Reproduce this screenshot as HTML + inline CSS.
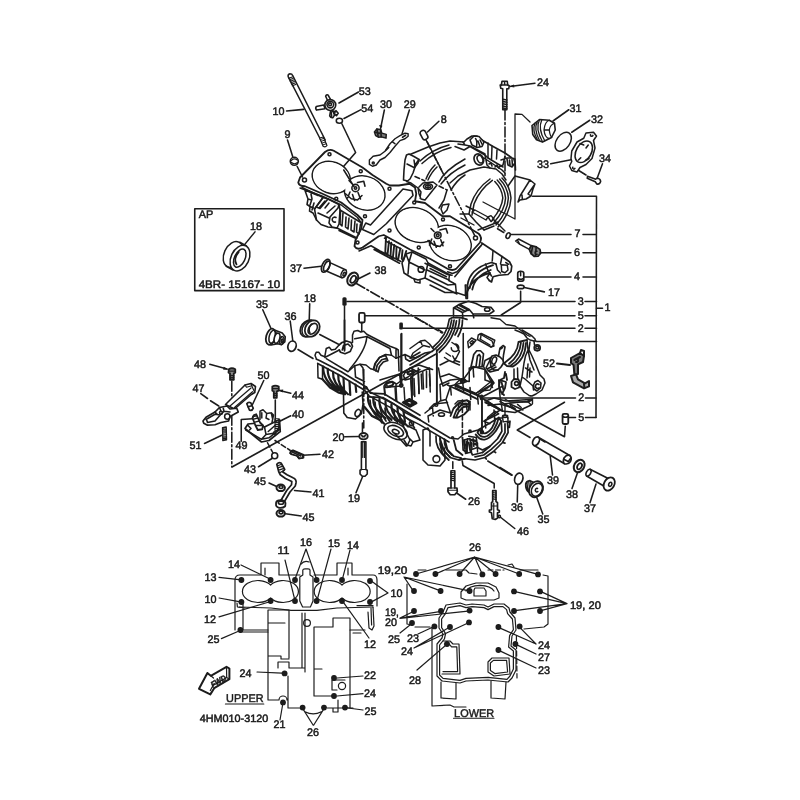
<!DOCTYPE html>
<html><head><meta charset="utf-8"><title>Crankcase</title>
<style>
html,body{margin:0;padding:0;background:#fff;}
svg{display:block;}
.t text{font-family:"Liberation Sans",sans-serif;font-size:11px;fill:#1a1a1a;stroke:#1a1a1a;stroke-width:0.5;text-rendering:geometricPrecision;}
.b{font-weight:bold;}
.l{stroke:#1c1c1c;stroke-width:1.55;fill:none;stroke-linecap:round;stroke-linejoin:round;}
.w{stroke:#1c1c1c;fill:#fff;stroke-linejoin:round;}
.k{fill:#1a1a1a;stroke:none;}
path,ellipse,circle,line,polyline,rect{vector-effect:non-scaling-stroke;}
.d{stroke-dasharray:7 2 1.5 2;}
</style></head><body>
<svg width="800" height="800" viewBox="0 0 800 800">
<defs><filter id="s" x="0" y="0" width="800" height="800" filterUnits="userSpaceOnUse"><feGaussianBlur stdDeviation="0.45"/></filter></defs>
<rect width="800" height="800" fill="#fff"/>
<g filter="url(#s)">
<!--UPPERCASE-->
<g id="uc1" class="l" transform="translate(290,130) scale(.25)">
<path class="w" stroke-width="1.8" d="M33 210L40 190L140 88Q158 74 175 83L290 150L330 180L385 215L400 222L435 222L478 215L500 230L505 255L500 285L540 292L610 345L640 345L755 415Q770 430 760 450L665 555Q650 565 630 555L560 515L480 478L375 420L355 425L290 470Q268 482 258 465L262 440L285 395L290 360L270 340L205 290L130 255L60 225Q36 225 33 210Z"/>
<g id="bores" stroke-width="1.8">
<ellipse cx="165" cy="190" rx="77" ry="62" transform="rotate(20 165 190)"/>
<ellipse cx="299" cy="252" rx="82" ry="66" transform="rotate(20 299 252)"/>
<ellipse cx="507" cy="380" rx="88" ry="66" transform="rotate(20 507 380)"/>
<ellipse cx="641" cy="452" rx="85" ry="68" transform="rotate(20 641 452)"/>
<g fill="#fff" stroke="none">
<ellipse cx="165" cy="190" rx="75" ry="60" transform="rotate(20 165 190)"/>
<ellipse cx="299" cy="252" rx="80" ry="64" transform="rotate(20 299 252)"/>
<ellipse cx="507" cy="380" rx="86" ry="64" transform="rotate(20 507 380)"/>
<ellipse cx="641" cy="452" rx="83" ry="66" transform="rotate(20 641 452)"/>
</g></g>
<path d="M290 398L303 372L322 380L452 236L488 243L492 262L385 375L335 418Z"/>
<g id="holes"><circle cx="158" cy="97" r="6"/><circle cx="58" cy="200" r="8"/><circle cx="185" cy="275" r="6"/><circle cx="283" cy="165" r="6"/><circle cx="300" cy="345" r="6"/><circle cx="398" cy="235" r="6"/><circle cx="270" cy="450" r="6"/><circle cx="398" cy="402" r="6"/><circle cx="497" cy="290" r="6"/><circle cx="515" cy="470" r="6"/><circle cx="612" cy="358" r="6"/><circle cx="640" cy="545" r="6"/><circle cx="742" cy="432" r="8"/></g>
</g>
<g id="ucB" class="l" transform="translate(295,170) scale(.1)">
<path d="M70 175L260 265L420 345M100 200L230 255M100 205L130 290L120 345L150 365L145 410L180 430L215 500L260 545L330 570L420 580M160 240L170 290L150 350M190 330L170 400M130 290L165 300M150 365L185 380"/>
<path class="w" d="M195 390L280 275L330 290L440 345L430 380L350 470L340 530L370 570L420 580L440 540L450 400L440 345"/>
<path d="M280 275L200 385M330 290L250 385L225 375M300 310L240 380M340 330L300 380M400 360L320 430M195 390L215 500M230 430L340 480"/>
<path d="M410 475A25 25 0 1 0 405 520" />
<path d="M455 410L450 540L470 560L480 430M510 470L505 570L530 590L540 480M565 500L560 600L590 620L600 510M620 540L615 620L640 640L655 540" stroke-width="1.6"/>
<path d="M420 580L620 680M440 605L600 680M450 400L650 520"/>
</g>
<g id="ucE" class="l" transform="translate(400,220) scale(.2)">
<path class="w" d="M10 215L30 170L60 160L130 195L140 215L130 260L125 290L90 300L60 290L20 265Z"/>
<circle cx="105" cy="247" r="14.5"/>
<path d="M60 160L45 210L125 250M30 170L45 210M45 210L40 270M140 215L250 275M135 250L245 300M125 290L285 370M70 295L75 310L100 315L100 302"/>
</g>
<g id="ucAB" class="l" transform="translate(430,225) scale(.15)">
<path d="M350 125L165 345M130 330L125 370L170 395L175 450L235 470L240 400M0 290L110 345M0 340L120 400L170 395M0 400L100 450L175 450" stroke-width="1.5"/>
<path d="M345 120L420 170L480 210L530 245L545 275L540 310L520 330L460 335L420 345L410 380L395 370" stroke-width="1.7"/>
<path d="M250 400Q265 290 410 250L440 260M265 420Q282 310 420 268M240 470Q270 350 400 320M282 430Q300 340 405 300" stroke-width="1.8"/>
<path d="M370 260L385 300L410 340M440 260L450 300L470 320M420 170L415 240M475 265L515 268L520 300L500 318L478 310ZM480 210L470 260M505 250L525 262M395 370L380 350L400 320" stroke-width="1.5"/>
<path d="M235 400L240 490L250 490L250 400"/>
</g>
<g id="ucW" class="l" transform="translate(390,110) scale(.2)">
<path d="M100 222L190 185L250 165L300 155L370 160L385 145L410 130L435 130L450 145L520 185L575 215L610 240L625 245" stroke-width="1.6"/>
<path d="M625 330L700 350L725 370L715 395L705 430L680 445L650 450L640 460M625 330L590 380M690 420L705 430M660 425L662 448M700 350L650 430L640 460M725 370L690 420" stroke-width="1.5"/>
<path d="M300 365L340 330L400 300L470 285L530 295L560 320L580 350M560 340Q600 380 605 440Q600 520 540 585M548 345Q588 385 592 440Q588 510 530 575M536 350Q574 390 578 440Q575 500 520 562M524 358Q560 395 564 440Q560 490 512 548" stroke-width="1.5"/>
<path d="M500 345Q430 395 405 470L395 520M512 352Q448 398 420 470L410 525M395 520L430 560L470 600" stroke-width="1.5"/>
<path d="M170 130L430 640" stroke-dasharray="10 2.5 2 2.5"/>
<path d="M625 20L625 545L465 460M625 20L660 22L700 60" stroke-width="1.3"/>
<path d="M575 0L575 340" stroke-dasharray="10 2.5 2 2.5"/>
<path d="M410 510L425 500L490 535L480 550ZM490 535L505 528L520 545L505 558ZM520 550L575 605M380 480L420 500M440 600L540 560M470 600L520 580M350 520L395 520M355 540L420 575" stroke-width="1.4"/>
</g>
<g id="ucAA" class="l" transform="translate(350,215) scale(.15)">
<path d="M240 150L235 250L250 265L260 175M275 185L270 275L285 290L295 200M310 215L308 285L320 300L335 225M350 235L345 290L355 305L375 240" stroke-width="1.9"/>
<path d="M140 205L200 240L340 310M160 230L330 322M240 175L340 225M500 322L650 397L680 402M60 240L140 205M230 155L240 150"/>
<path d="M40 455L620 790" stroke-dasharray="10 2.5 2 2.5"/>
<g stroke-width="1.6"><circle class="w" cx="585" cy="135" r="22"/><circle cx="585" cy="135" r="9"/>
<path d="M520 170L560 200L600 210L625 180M545 160L530 200M560 175L575 215M605 165L620 205M600 100L640 90L650 120M560 110L540 90"/></g>
</g>
<g id="ucFit1" class="l" transform="translate(290,130) scale(.25)" stroke-width="1.6">
<circle class="w" cx="262" cy="232" r="14.5"/><circle cx="262" cy="232" r="5"/>
<path d="M222 255L245 275L270 280L288 262M240 248L230 272M250 258L258 282M272 250L282 276M270 210L295 205L300 225M248 215L236 202M215 160L255 225"/>
</g>
<g id="ucThick" class="l" transform="translate(290,130) scale(.25)">
<path d="M40 232L130 265L205 300L270 350L285 372M630 567L650 574L668 567L765 462" stroke-width="1.4"/>
</g>
<g id="ucW2" class="l" transform="translate(385,140) scale(.1)">
<path class="w" d="M215 150L240 140L290 165L340 195L330 230L300 270L280 330L250 390L225 410L185 400L190 300L200 200Z" stroke-width="1.6"/>
<path d="M220 240L290 275M290 200L300 270M340 195L300 250"/>
<path d="M350 210Q480 90 640 50M370 235Q500 115 660 75M410 390Q440 310 500 250M430 400Q465 320 520 270M540 420Q600 300 800 190M560 440Q640 330 800 250M660 500Q720 400 800 350" stroke-width="1.5"/>
<path d="M300 365L400 410M540 460L620 500" stroke-dasharray="5 2.5"/>
<ellipse cx="430" cy="465" rx="45" ry="28" stroke-width="1.6"/><ellipse cx="430" cy="465" rx="25" ry="13"/><path d="M430 440L430 490"/>
<path d="M340 470L380 430L480 420L520 450L400 600L360 590L340 540L330 480M330 480L360 520L350 580M620 500L590 600L540 680M215 415L260 430L330 480" stroke-width="1.5"/>
<path class="w" d="M560 690L575 650L640 640L620 700L580 740Z" stroke-width="1.5"/>
</g>
<g id="ucAD" class="l" transform="translate(455,125) scale(.1)">
<path class="w" d="M150 150L190 110L240 115L290 170L270 215L220 225L170 200Z" stroke-width="1.6"/>
<path d="M230 160L250 215M250 150L275 200M205 135Q225 160 215 215M80 170L100 200L150 210L300 290M90 250L150 215L300 300L330 330M0 215L90 250M30 190L100 200" stroke-width="1.5"/>
<ellipse class="w" cx="238" cy="345" rx="46" ry="58" transform="rotate(-25 238 345)" stroke-width="1.7"/>
<ellipse cx="250" cy="342" rx="26" ry="40" transform="rotate(-25 250 342)" stroke-width="1.5"/>
<path d="M300 300L320 400L350 430M290 330L470 450L500 480M330 330L480 420M420 250L415 340M460 350L520 330L560 330M440 420L480 400L500 310M330 180L330 330M370 215L365 350" stroke-width="1.5"/>
<path d="M520 340L530 400L570 420L600 380L590 345M600 350L605 450M545 350L550 400M570 345L575 410M340 390L360 380L370 410M400 420L420 400L435 430" stroke-width="1.6"/>
</g>
<!--LOWERCASE-->
<g id="lcI" class="l" transform="translate(370,380) scale(.2)">
<path d="M0 60L120 120L170 160L250 200L400 290L440 295L470 270L540 250L600 215L640 190L690 190M0 82L110 142L165 182L245 222L395 310" stroke-width="1.5"/>
<ellipse cx="128" cy="255" rx="62" ry="38" transform="rotate(25 128 255)"/><ellipse cx="128" cy="255" rx="42" ry="24" transform="rotate(25 128 255)"/><ellipse cx="130" cy="258" rx="18" ry="10" transform="rotate(25 128 255)"/>
<path d="M170 300L185 325L205 330L215 310L200 295M60 215L40 190L10 180M190 230L230 250L250 300L215 310"/>
<path d="M265 250L265 400L290 425L350 430L375 400L372 340M265 250L290 240L300 260L300 330"/><circle cx="332" cy="395" r="17"/>
<path d="M330 280Q325 340 380 390M350 285Q345 340 400 385M372 295Q368 340 410 375M0 100Q0 150 40 190M25 110Q25 160 60 200M50 125Q50 165 80 205M75 140Q75 175 100 210M120 150L125 200M150 175L150 215" stroke-width="1.7"/>
<path d="M462 100L462 290" stroke-dasharray="5 2.5"/>
<ellipse class="k" cx="558" cy="88" rx="10" ry="15"/>
</g>
<g id="lcH" class="l" transform="translate(440,290) scale(.2)">
</g>
<g id="p52" class="l" style="stroke-width:2" transform="translate(440,290) scale(.2)">
<path class="w" d="M655 340L700 315L720 330L715 360L690 372L690 420L672 425L668 375L655 365Z" style="fill:#777"/>
<path d="M700 315L705 300L720 305L720 330M672 350L700 335M680 360A8 8 0 1 0 680 345"/>
<path class="w" d="M655 430L665 462L720 492L745 482L745 455L725 467L690 447L680 422Z" style="fill:#aaa"/>
<path d="M585 368L650 375M720 470L722 490"/>
</g>
<g id="ptL" class="l" transform="translate(330,85) scale(.125)">
<ellipse cx="75" cy="285" rx="25" ry="20" stroke-width="1.5"/>
<path d="M95 310L205 540L110 650"/>
<path d="M435 200L405 345M635 200L575 395"/>
<path class="k" d="M405 350L392 320L420 325Z"/>
<path class="w" d="M355 375L375 352L405 355L415 385L450 395L448 425L410 415L390 418L365 405Z" stroke-width="1.5" style="fill:#777"/>
<path d="M375 352L385 410M405 355L410 415M365 380L395 385"/>
<path class="w" d="M315 600L345 570L400 560L440 530L480 470L520 430L560 405L600 385L625 390L625 410L600 430L560 445L520 490L480 540L440 580L400 600L370 640L340 650L315 635Z" stroke-width="1.4"/>
<circle cx="346" cy="624" r="8"/><path d="M580 418L605 402M500 455L520 470M470 500L450 520"/>
</g>
<g id="ptM" class="l" transform="translate(280,70) scale(.0875)">
<path class="w" d="M93 75Q88 47 113 42Q138 42 144 62L517 800L466 800Z" stroke-width="1.5"/>
<path d="M100 95L140 80M108 112L148 97M116 129L156 114M124 146L164 131M132 163L172 148M140 180L180 165" stroke-width="1.2"/>
<path d="M75 468L270 450"/>
<g stroke-width="1.6">
<path class="w" d="M500 400L415 418Q400 440 418 458L515 442Z"/>
<path class="w" d="M548 360L522 300Q528 278 548 285L585 350Z"/>
<path class="w" d="M580 460L568 525Q580 550 605 545L645 480Z"/>
<path class="w" d="M640 465L665 495L645 522L615 500Z"/>
<circle class="w" cx="575" cy="400" r="62"/><circle cx="575" cy="395" r="38"/><circle cx="572" cy="392" r="16"/>
<path d="M585 480L590 530M600 470L625 500"/>
</g>
</g>
<g id="stud10b" class="l">
<path class="w" d="M319.7 138L323.1 146.3Q325.5 147.6 327 145.5L323.3 137Z" stroke-width="1.2"/>
<path d="M320.5 139.5L324 138.3M321.3 141.3L324.8 140.1M322.1 143.1L325.6 141.9M322.9 144.9L326.4 143.7" stroke-width="1"/>
</g>
<g id="ptN" class="l" transform="translate(490,70) scale(.15)">
<path class="w" d="M80 75L115 75L118 100L128 105L125 125L112 125L112 265L85 265L85 125L72 122L68 100L76 100Z" stroke-width="1.6"/>
<path d="M76 100L118 100M85 195L112 200M85 210L112 215M85 225L112 230M85 240L112 245M85 253L112 258M97 78L98 100"/>

<path d="M300 88L132 110"/><path class="k" d="M128 110L160 96L162 116Z"/>
<path d="M525 265L420 340M665 335L545 415M405 625L540 598M750 625L715 720M575 660L640 700"/>
<path class="w" d="M280 370L330 330L395 335L430 355L435 400L410 450L350 480L310 465L285 430Z" stroke-width="1.6"/>
<path d="M330 332Q300 390 350 478M345 333Q318 390 365 472M315 345Q290 395 330 470M300 355Q280 400 315 462M395 335Q365 345 360 400Q365 450 395 458M430 355Q400 365 395 400Q400 440 412 448M360 400L395 400" stroke-width="1.3"/>
<ellipse cx="488" cy="478" rx="45" ry="70" transform="rotate(35 488 478)" stroke-width="1.5"/>
<path class="w" d="M540 590L545 540L580 480L625 455L640 420L690 415L710 440L690 470L700 520L680 590L640 630L600 650L580 680L545 670L530 640L545 610Z" stroke-width="1.5"/>
<ellipse cx="625" cy="545" rx="50" ry="78" transform="rotate(30 625 545)"/>
<path d="M600 490L625 500M660 590L640 600M590 600L605 585M655 500L640 520M670 432A8 8 0 1 0 686 436M552 648A8 8 0 1 0 566 656"/>
<path class="w" d="M650 708L705 728L712 722Q735 722 738 742Q732 765 712 760L702 745L648 722Z" stroke-width="1.5"/>
</g>
<g id="ptO" class="l" transform="translate(495,220) scale(.125)">
<ellipse cx="105" cy="125" rx="15" ry="24" transform="rotate(25 105 125)" stroke-width="1.6"/>
<path d="M70 100L20 70"/>
<path class="w" d="M165 168L188 152L290 205L275 235L200 195Z" stroke-width="1.5"/>
<path d="M180 160L195 190"/>
<path class="w" d="M275 235L290 205L330 215L360 235L365 265L345 290L315 292L290 270L280 250Z" stroke-width="1.7" style="fill:#888"/>
<path d="M300 215L290 270M330 215L322 290M335 250A10 14 0 1 0 336 275" stroke-width="1.6"/>
<path class="w" d="M182 425Q182 410 205 410Q230 410 230 425L230 475Q230 490 205 490Q182 490 182 475Z" stroke-width="1.7"/>
<path d="M205 412L205 445M190 470Q205 480 222 470"/>
<ellipse cx="205" cy="535" rx="28" ry="14" stroke-width="1.6"/>
<path d="M235 540L395 575M205 570L205 660L50 760"/>
</g>
<g id="ptP" class="l" transform="translate(190,205) scale(.125)">
<rect x="38" y="30" width="714" height="655" stroke-width="1.6"/>
<path d="M520 215L430 325"/>
<ellipse class="w" cx="345" cy="395" rx="72" ry="108" transform="rotate(25 345 395)" stroke-width="1.5"/>
<path d="M295 478L350 505L445 350L390 305Z" style="fill:#fff;stroke:none"/>
<path d="M290 490L345 520M398 298L452 328" stroke-width="1.5"/>
<ellipse class="w" cx="400" cy="425" rx="72" ry="108" transform="rotate(25 400 425)" stroke-width="1.5"/>
<ellipse cx="398" cy="425" rx="42" ry="78" transform="rotate(25 398 425)" stroke-width="1.5"/>
<path d="M372 475Q345 430 390 375" stroke-width="1.8"/>
</g>
<g id="ptQ" class="l" transform="translate(250,255) scale(.15)">
<path d="M360 88L475 75M85 365L140 490M268 440L285 570M398 325L395 430M320 630L420 690M465 530L590 595M720 160L800 120"/>
<path class="w" d="M522 46L640 100L612 152L497 102Z" stroke-width="1.5"/>
<ellipse class="w" cx="505" cy="72" rx="24" ry="46" transform="rotate(25 505 72)" stroke-width="1.7"/>
<ellipse cx="512" cy="75" rx="17" ry="36" transform="rotate(25 512 75)"/>
<ellipse class="w" cx="625" cy="125" rx="16" ry="28" transform="rotate(25 625 125)" stroke-width="1.5"/>
<ellipse cx="628" cy="128" rx="7" ry="13" transform="rotate(25 628 128)"/>
<ellipse class="w" cx="685" cy="160" rx="33" ry="46" transform="rotate(30 685 160)" stroke-width="2"/>
<ellipse cx="688" cy="162" rx="16" ry="26" transform="rotate(30 688 162)" stroke-width="1.8"/>
<path class="w" d="M150 495L215 520L235 545L232 580L210 598L185 592L140 600Z" stroke-width="1.6"/>
<ellipse class="w" cx="138" cy="545" rx="30" ry="55" transform="rotate(15 138 545)" stroke-width="1.8"/>
<ellipse cx="150" cy="545" rx="22" ry="45" transform="rotate(15 150 545)"/>
<ellipse class="w" cx="180" cy="555" rx="18" ry="35" transform="rotate(15 180 555)" stroke-width="1.6"/>
<ellipse class="w" cx="212" cy="570" rx="14" ry="26" transform="rotate(15 212 570)" stroke-width="1.6"/>
<ellipse cx="214" cy="572" rx="6" ry="12" transform="rotate(15 214 572)"/>
<ellipse cx="280" cy="608" rx="27" ry="35" transform="rotate(20 280 608)" stroke-width="1.7"/>
<ellipse class="w" cx="385" cy="490" rx="45" ry="60" transform="rotate(35 385 490)" stroke-width="1.8"/>
<ellipse class="w" cx="397" cy="490" rx="45" ry="60" transform="rotate(35 397 490)" stroke-width="1.5"/>
<ellipse class="w" cx="415" cy="490" rx="45" ry="58" transform="rotate(35 415 490)" stroke-width="1.8"/>
<ellipse cx="418" cy="492" rx="26" ry="40" transform="rotate(35 418 492)" stroke-width="1.6"/>
<path d="M400 520Q385 490 410 460" stroke-width="1.5"/>
<rect class="k" x="616" y="282" width="28" height="56" rx="10"/>
<path d="M630 340L630 640" />
<rect class="w" x="727" y="386" width="38" height="64" rx="10" stroke-width="1.8"/>
<path d="M745 455L745 510"/>
</g>
<g id="ptR" class="l" transform="translate(185,355) scale(.15)">
<path d="M165 62L280 93M525 170L450 330M705 255L630 237M705 405L625 445M375 575L375 430L450 425M130 590L245 535M490 745L580 690M602 300L602 520"/>
<path class="k" d="M290 97L258 78L255 98ZM622 234L655 230L650 250Z"/>
<path d="M105 258L150 290M170 305L225 340"/>
<path d="M312 175L312 745" stroke-dasharray="10 2.5 2 2.5"/>
<path d="M550 585L585 650M600 570L700 635" stroke-dasharray="5 2.5"/>
<path class="w" d="M292 95Q312 82 335 95L335 118L325 122L325 165L300 165L300 122L290 118Z" stroke-width="1.8" style="fill:#888"/>
<path d="M300 135L325 138M300 148L325 151M300 160L325 163M292 108L335 108" stroke-width="1.2"/>
<path class="w" d="M582 210Q602 198 625 210L625 238L612 242L612 285L592 285L592 242L582 238Z" stroke-width="1.8" style="fill:#888"/>
<path d="M592 255L612 258M592 268L612 271M583 224L625 224" stroke-width="1.2"/>
<path class="w" d="M270 330L400 200L440 190L470 210L465 250L440 265L330 360Z" stroke-width="1.6"/>
<path d="M300 340L440 220M330 350L450 245M400 200L410 215L445 205M440 190L445 205L465 250" stroke-width="1.2"/>
<path class="w" d="M120 440L140 415L200 380L230 350L280 340L300 360L345 355L355 380L300 410L290 440L240 450L200 465L150 468L125 455Z" stroke-width="1.7"/>
<path d="M140 430L200 395L235 400L200 440L150 450M235 400L260 375L300 380M230 350L240 375M200 380L215 395M260 375L255 355M150 450L145 435"/>
<circle cx="282" cy="410" r="18"/><circle cx="240" cy="385" r="10"/>
<path class="w" d="M412 325Q420 312 438 318L455 355Q450 372 430 368Z" stroke-width="1.7"/>
<path d="M420 345L445 338"/>
<path class="w" d="M400 490L420 460L470 455L530 480L630 430L635 510L560 570L510 580Z" stroke-width="1.7"/>
<path d="M405 500L510 562L560 552L632 495M420 470L440 490L430 500M530 480L540 530L600 520L630 480M540 530L510 562M555 510L600 470"/>
<path d="M500 430L500 375L520 365L545 390L575 385L590 400L580 450M512 420L512 385M545 390L540 420L560 430M575 385L585 430" stroke-width="1.5"/>
<path class="w" d="M460 400L475 395L500 450L520 470L515 495L485 500L470 470L450 420Z" stroke-width="1.8"/>
<path d="M452 410L478 405M458 428L485 420M466 448L495 440M470 470L520 470" stroke-width="1.4"/>
<path d="M600 425L625 425L625 505L600 505ZM600 435L625 440M600 448L625 453M600 461L625 466M600 474L625 479M600 487L625 492" stroke-width="1.2"/>
<circle cx="598" cy="520" r="8"/>
<path d="M250 485L275 480L277 565L252 570ZM250 495L276 492M251 508L276 505M251 521L276 518M251 534L277 531M252 547L277 544M252 558L277 555" stroke-width="1.3"/>
<circle cx="598" cy="672" r="20" stroke-width="1.6"/>
<path class="w" d="M705 640L720 635L790 665L790 685L760 690L745 670L700 655Z" stroke-width="1.7"/>
<path d="M720 645L775 672"/>
</g>
<g id="ptS" class="l" transform="translate(245,420) scale(.15)">
<path d="M500 228L385 235M440 480L330 470M160 420L215 445M375 640L270 625M665 112L758 110M740 485L785 375"/>
<path class="w" d="M305 215L320 205L385 235L385 252L362 256L350 240L308 228Z" stroke-width="1.8"/>
<path d="M318 215L372 240"/>
<path class="w" d="M212 295Q225 280 240 287L265 330L250 345L280 365L320 385Q345 395 340 420L335 440L300 480L265 540L240 535L278 470L310 432L312 410L270 390L235 365L225 345Z" stroke-width="1.7"/>
<path d="M218 305L245 295M224 318L252 308M230 332L260 322M235 350L262 335" stroke-width="1.3"/>
<path class="w" d="M207 552Q210 535 240 535Q270 540 270 555L268 575Q250 590 225 585Q205 578 207 565Z" stroke-width="1.8"/>
<ellipse cx="240" cy="552" rx="18" ry="10"/>
<ellipse class="w" cx="238" cy="452" rx="28" ry="22" stroke-width="2"/><ellipse cx="240" cy="447" rx="13" ry="9" stroke-width="1.6"/>
<ellipse class="w" cx="238" cy="622" rx="28" ry="22" stroke-width="2"/><ellipse cx="240" cy="617" rx="13" ry="9" stroke-width="1.6"/>
<ellipse class="w" cx="790" cy="108" rx="28" ry="21" stroke-width="1.9"/>
<path d="M775 100Q790 118 805 100M780 112L800 112" stroke-width="1.3"/>
<path class="w" d="M776 145L806 145L806 330L815 335L815 360L800 375L782 375L767 360L767 335L776 330Z" stroke-width="1.6"/>
<path d="M776 330L806 330M785 145L785 250M797 145L797 250" stroke-width="1.2"/>
<path d="M783 20L783 80"/>
</g>
<g id="ptU" class="l" transform="translate(500,400) scale(.15)">
<path d="M350 500L335 375M480 590L515 490M600 685L640 560M115 680L118 570M285 760L245 650M0 450L80 500"/>
<path d="M430 15L115 200L200 250M0 10L430 245L435 175"/>
<rect class="w" x="417" y="92" width="38" height="68" rx="10" stroke-width="1.8"/>
<path d="M418 110Q436 120 455 110"/>
<path class="w" d="M255 248L465 370L430 425L225 302Z" stroke-width="1.6"/>
<ellipse class="w" cx="240" cy="275" rx="20" ry="31" transform="rotate(30 240 275)" stroke-width="1.7"/>
<path class="w" d="M465 370Q482 385 470 410Q455 432 430 425Q415 410 428 385Q445 362 465 370Z" stroke-width="1.7"/>
<path d="M425 395L455 410L470 390M270 262L300 280"/>
<ellipse class="w" cx="528" cy="440" rx="33" ry="44" transform="rotate(30 528 440)" stroke-width="2"/>
<ellipse cx="530" cy="442" rx="14" ry="22" transform="rotate(30 530 442)" stroke-width="1.8"/>
<path class="w" d="M600 462L715 520L695 575L580 508Z" stroke-width="1.6"/>
<ellipse class="w" cx="590" cy="485" rx="14" ry="25" transform="rotate(30 590 485)" stroke-width="1.6"/>
<ellipse class="w" cx="728" cy="560" rx="34" ry="47" transform="rotate(30 728 560)" stroke-width="1.8"/>
<ellipse cx="735" cy="562" rx="10" ry="14" transform="rotate(30 735 562)"/>
<ellipse cx="125" cy="525" rx="27" ry="38" transform="rotate(15 125 525)" stroke-width="1.7"/>
<path class="w" d="M172 560Q175 540 200 538L225 550L220 610L190 612Q170 595 172 560Z" stroke-width="1.8"/>
<path d="M180 550L185 605M192 545L198 610M205 543L210 610" stroke-width="1.3"/>
<ellipse class="w" cx="240" cy="595" rx="44" ry="56" transform="rotate(30 240 595)" stroke-width="1.8"/>
<ellipse cx="246" cy="598" rx="34" ry="46" transform="rotate(30 246 598)"/>
<path d="M250 590A10 12 0 1 0 252 610"/>
</g>
<g id="ptV" class="l" transform="translate(430,440) scale(.15)">
<path d="M238 395L180 355M565 590L470 515M215 140L220 170L428 290L428 320M385 140L545 235M152 145L152 190"/>
<path class="w" d="M140 205L165 205L165 320L180 320L182 345L165 365L135 365L120 345L120 320L140 320Z" stroke-width="1.7"/>
<path d="M140 215L165 220M140 228L165 233M140 241L165 246M140 254L165 259M140 267L165 272M120 335L182 335M140 320L165 320" stroke-width="1.2"/>
<path class="w" d="M418 338L440 338L440 410L450 418L450 465L462 470L462 482L450 485L450 520L435 530L415 525L410 485L396 480L396 468L410 465L410 418L418 410Z" stroke-width="1.7"/>
<path d="M418 350L440 354M418 364L440 368M418 378L440 382M418 392L440 396M410 440L450 440M425 420L425 520" stroke-width="1.2"/>
<circle cx="462" cy="510" r="8"/>
</g>
<g id="ptX" class="l">
<rect class="k" x="399.3" y="322.5" width="3.6" height="7" rx="1.3"/><path d="M401 334L401 383"/>
<circle class="w" cx="294.3" cy="161.3" r="4" stroke-width="1.6"/>
<path d="M291.3 160.5Q294 157.5 297.3 160M291.5 162.5Q294.5 165 297.5 162.5" stroke-width="1.2"/>
<rect class="w" x="421.2" y="130.3" width="5.6" height="9.4" rx="2.2" transform="rotate(-28 424 135)" stroke-width="1.6"/>
<path d="M438.9 121.3L427.5 132M427.3 142L441.5 170"/>
<path d="M232 467L437 353.5"/>
</g>
<g id="lcG1b" class="l" transform="translate(300,320) scale(.15)">
<path d="M110 262L130 270L275 345L430 440L445 452L470 488L560 492L640 540L800 635M118 290L270 372L420 462L440 478L462 512L555 518L640 568L800 665" stroke-width="1.7"/>
<path d="M110 262L100 235L108 215L125 215L140 235L165 245L175 190L195 182L210 200L235 195L262 165M118 290L120 385L150 395L150 310M165 250L262 200M175 258L320 345L365 305L400 295L440 300L470 325L490 330L505 285L530 250L570 230L610 235L640 255" stroke-width="1.5"/>
<path d="M262 165L280 150L310 140L340 150L350 175L335 210L300 225L270 215L262 200M282 200L290 170L320 160L335 175M297 0L297 200" stroke-width="1.7"/>
<path d="M350 100L360 75L385 70L405 80L425 75L445 95L600 175L640 190L655 200M365 125L445 110L600 190L610 235M350 100L350 150M445 115Q440 200 330 330M655 200L660 340M640 190L640 255"/>
<path d="M490 330L500 290L530 250L570 235M505 340L515 300L545 265L580 255M520 345L530 310L555 280L585 270M570 235L585 270M490 330L520 345" stroke-width="1.7"/>
<path d="M365 305L370 380L430 410M400 295L420 320L425 440"/>
<path d="M425 330L425 720" stroke-dasharray="10 2.5 2 2.5"/>
<path d="M155 310Q150 400 250 470M185 325Q180 410 280 480M220 345Q215 420 300 490M255 365Q250 440 320 495M290 385L295 495M330 410L335 500M370 430L375 480M150 395L200 450L260 485L300 495" stroke-width="2.2"/>
<path d="M290 495L292 620L315 650L370 660L410 625L420 560L415 480" stroke-width="1.6"/>
<ellipse cx="385" cy="620" rx="17" ry="25" transform="rotate(25 385 620)" stroke-width="1.6"/>
<path d="M455 500Q440 580 540 650M490 515Q478 590 570 655M530 525Q518 600 610 665M570 540Q560 610 650 680M610 560Q600 625 690 700M650 585Q645 650 720 710M690 610L700 680M430 580L480 640L540 670L560 690" stroke-width="2.2"/>
<path d="M560 440L580 415L615 410L640 425L640 450M640 430L680 400L720 380L760 350L800 330M700 350L740 340L760 355L740 390L700 400L690 370ZM740 400L745 520M760 390L765 510M690 545L730 525L775 550L735 575ZM705 547L730 535L758 550L735 564ZM640 255L700 230L740 250L800 215M700 230L705 260L730 275L800 240M678 90L678 420M560 440L565 500M640 450L645 540"/>
<ellipse cx="600" cy="428" rx="24" ry="11" transform="rotate(-15 600 428)"/>
<ellipse cx="733" cy="352" rx="18" ry="9" transform="rotate(-15 733 352)"/>
<circle cx="676" cy="435" r="10"/><circle cx="438" cy="452" r="8"/>
</g>
<g id="lcY" class="l" transform="translate(410,290) scale(.15)">
<path d="M290 120L330 95L390 75L440 90L480 110L540 115L560 140L530 160L420 160L395 130L330 95M295 120L350 150L395 130M310 112L370 143M330 103L390 136M290 120L290 175M350 150L352 185M420 160L425 185" stroke-width="1.6"/>
<ellipse cx="515" cy="130" rx="18" ry="12"/>
<path d="M40 185L130 235M190 265L230 290" stroke-dasharray="5 2.5"/>
<path d="M540 185L600 195L640 230L700 240L740 270L780 300L800 310" stroke-width="1.3"/>
<path d="M150 385Q250 300 262 195M165 395Q265 310 278 200M180 405Q280 320 294 200M195 415Q295 330 310 205M262 195L280 185L310 182L345 186L380 196M330 195Q330 250 300 300M350 200Q350 260 320 310" stroke-width="1.7"/>
<path d="M0 390L70 340L100 335L130 360L150 385L160 400L0 500M20 420L90 370L130 380M10 440L20 420M40 450L100 420L150 410M70 340L80 365M0 455L40 450" stroke-width="1.5"/>
<path d="M178 400L178 760M355 290L355 600"/>
<circle cx="350" cy="605" r="14"/>
<path d="M15 530L20 700M55 520L60 690M110 540L110 650M0 520L60 500L150 530M75 560L80 660M130 560L135 640" stroke-width="1.6"/>
<path d="M280 350L310 370L330 410L310 450L290 480M285 440L300 470L330 480M200 500L260 470L330 500M190 520L200 580L220 640L260 620M200 580L260 560L330 590M275 385A25 25 0 1 0 300 360M240 420L270 440M230 450L260 470" stroke-width="1.5"/>
<path d="M405 520L425 430L445 405L470 405L490 425L480 510M440 510L450 440L462 430L470 445L462 510" stroke-width="1.7"/>
<path d="M455 300L475 290L565 335L555 370L540 380L450 330ZM475 290L470 325M385 345L410 320L440 335L415 365L390 385ZM400 350L415 338L425 345L408 362Z" stroke-width="1.5"/>
<path d="M395 520L490 510L540 610L440 690L300 630L330 600L395 610ZM395 520L395 610M300 640L478 715L620 640M440 690L440 700M490 510L500 470L540 450" stroke-width="1.5"/>
<path d="M300 760L320 740L380 735L400 760L400 800M320 800L325 760L375 755L380 800M130 790L160 760L250 750M500 740L560 720L640 740L800 730M520 770L600 760L700 790" stroke-width="1.5"/>
</g>
<g id="lcZ" class="l" transform="translate(380,350) scale(.15)">
<path d="M0 200L130 160L140 240L30 250M140 160L140 240M205 180L215 330M255 150L260 290M285 140L290 260M330 120L335 280M380 30L380 360M130 160L205 120L255 150M205 180L255 150L285 140L330 120M160 250L165 330M30 250L35 300M100 245L105 330" stroke-width="1.5"/>
<ellipse cx="62" cy="232" rx="30" ry="14" transform="rotate(-20 62 232)"/><ellipse cx="205" cy="150" rx="22" ry="10" transform="rotate(-20 205 150)"/>
<path d="M150 350L195 330L245 355L200 380ZM168 352L195 340L225 355L200 368Z" stroke-width="1.5"/>
<circle cx="210" cy="490" r="14"/><ellipse cx="410" cy="430" rx="20" ry="12"/><circle cx="375" cy="365" r="10"/><circle cx="140" cy="238" r="9"/><circle cx="555" cy="205" r="12"/>
<path d="M400 230L470 200L560 190L580 210L470 240L440 330L400 340M320 440L400 400L470 420L440 330M300 420L350 380L395 345M400 230L405 340M470 240L475 300M350 380L355 440M320 440L325 480" stroke-width="1.5"/>
<path d="M470 440L490 390L530 350L580 335L600 345M490 450L510 400L545 365L590 360M600 345L590 400L560 430L520 450L490 450M505 452L525 410L555 380L592 375" stroke-width="1.8"/>
<path d="M680 330L680 550M560 190L620 110L700 130L760 220L650 300L520 240M650 300L800 400L700 470M620 110L625 180M700 130L700 200L760 220M650 300L655 360M600 250L605 330M700 470L705 520M760 400L765 470"/>
<circle cx="680" cy="548" r="10"/>
<path d="M140 470L170 540L200 600L180 640M160 440L200 470L230 520M100 560L140 600L175 640" stroke-width="1.6"/>
<path d="M560 600L600 590L610 680L570 690ZM575 610L580 680M620 600L650 620L650 680" stroke-width="1.5"/>
</g>
<g id="lcAC" class="l" transform="translate(440,380) scale(.125)">
<path d="M60 40L300 155M120 62L290 148M370 180L500 250M290 105L410 40L420 60M410 40L410 0M470 0L480 130L500 250M180 0L190 100M335 165L335 410" stroke-width="1.5"/>
<path d="M520 190L700 170L730 200L600 260L520 250ZM700 170L740 150L740 190L730 200M360 180L520 255L520 290M380 300L440 250L470 270L350 330L400 350M560 200L600 230M620 195L650 220" stroke-width="1.4"/>
<path class="w" d="M500 290L540 285L545 330L505 335Z" stroke-width="1.5"/><ellipse class="w" cx="520" cy="290" rx="18" ry="9"/>
<path d="M300 420Q350 500 430 400Q460 350 470 300M320 400Q355 460 415 385Q438 345 445 310M285 435Q350 530 445 410Q478 355 490 330M300 420L310 400L320 400M470 300L490 330" stroke-width="1.8"/>
<circle cx="332" cy="412" r="9"/>
<path d="M540 340L545 420L500 500L430 570L360 620L280 640L200 630M520 350L520 420L480 490L410 555L350 600L280 615M490 330L495 410L460 470L400 530L340 580M545 340L560 330L555 380M500 500L520 505M430 570L445 580M360 620L370 632" stroke-width="1.7"/>
<path d="M0 470L30 560L80 620L150 640L200 630M40 480L60 560L110 610L170 625M110 480L130 560L180 600M0 510L20 590L70 640" stroke-width="1.8"/>
<path d="M180 460L185 560L215 580L220 470M230 450L290 460L300 540L240 560L230 500M250 500L255 540M195 480L200 550M265 470L270 530M300 540L340 560L400 530M240 560L260 600L340 580" stroke-width="1.7"/>
<path d="M200 520L215 525M245 480L280 485M270 510L290 515" stroke-width="2.5"/>
<circle cx="240" cy="410" r="9"/><circle cx="100" cy="462" r="8"/>
</g>
<g id="lcAE" class="l" transform="translate(480,330) scale(.1)">
<path d="M350 0L400 20L440 40L470 80L500 100L540 110L560 110M420 0L470 30L520 60L550 90L555 110" stroke-width="1.5"/>
<path d="M385 120Q375 240 250 325M460 130Q450 300 330 365L270 360L240 335M410 125Q398 255 290 338M435 130Q425 280 310 352M385 120L470 100M250 325L240 335" stroke-width="1.8"/>
<path class="w" d="M100 300L120 260L160 250L200 270L230 300L235 330L210 370L180 400L140 400L110 370Z" stroke-width="1.7"/>
<ellipse cx="142" cy="305" rx="22" ry="38" transform="rotate(20 142 305)" stroke-width="1.5"/>
<path d="M185 260L200 180L230 155L250 170L235 250L230 300M205 190L225 175M100 300L60 380L100 420L180 400M70 390L150 350M80 410L160 370" stroke-width="1.6"/>
<path d="M250 420L240 480L200 500L190 560L210 620L240 650M200 500L260 520L250 580L220 640M215 520L235 600M260 440L270 500" stroke-width="1.8"/>
<path d="M340 390L340 500M375 380L378 490" stroke-width="1.5"/>
<path class="w" d="M315 520L340 490L385 495L400 530L390 575L350 590L315 570Z" stroke-width="1.8"/><circle cx="365" cy="535" r="19" stroke-width="1.6"/>
<path d="M470 100L480 200L455 260L440 330L430 400L420 470L450 490M500 120L490 200L520 260L560 350L600 450L640 490L650 530L620 600L560 640L520 660L490 655M450 490L530 560L535 600M420 470L400 560L440 620L500 660M480 340L470 480M500 380L495 470M455 380L520 420M480 200L500 300L540 400" stroke-width="1.5"/>
<circle class="w" cx="572" cy="178" r="30" stroke-width="1.7"/><circle cx="572" cy="176" r="14"/>
<path d="M540 110L545 150"/>
<path class="w" d="M550 520L580 505L610 530L605 580L570 610L540 590L535 550Z" stroke-width="1.6"/><path d="M590 545A22 22 0 1 0 592 578" stroke-width="1.6"/>
<path d="M130 540L100 600L0 610M60 700L200 790M250 690L300 720L480 720L520 700M300 740L430 800M0 40L120 110L140 160L110 170M0 90L100 150" stroke-width="1.4"/>
</g>
<!--PARTS-->
<!--LEADERS-->
<g class="l" id="leaders">
<path d="M358.5 92L339 103M361 109.6L344 118.5M287.5 140L292.7 156.5M297.2 166.5L302.5 177"/>
<path d=""/>
<path d=""/>
<!-- right bracket -->
<path d="M532.5 196.2H596.5L596 417.5M511 234.4H571M583 234.4H596.5M540 252.8H571M583 252.8H596.5M524 277H571M583 277H596.5"/>
<path d="M347 301.4H575M585 301.4H596.5M596.5 308.2H602.5M365 315.8H575M585 315.8H596.5M403 328.3H575M585 328.3H596.5M536 341.4H596.5"/>
<path d="M484 398H575.5M585.5 398H596M569 417.5H575.5M585.5 417.5H596"/>
</g>
<g id="dgJ" class="l" style="stroke-width:1.2" transform="translate(225,560) scale(.2)">
<path d="M50 350L50 100Q50 75 75 75L180 75M270 75L375 75M445 75L560 75M635 75L740 75Q760 75 760 100L760 230M180 75L180 15L270 15L270 75M560 75L560 15L635 15L635 75M200 75L200 40M615 75L615 40"/>
<path d="M90 220L90 345M75 350L215 350M75 360L215 360M60 215L62 235L100 240"/>
<path d="M228 125A78 55 0 1 0 228 190A77 55 0 1 0 228 125Z"/>
<path d="M585 125A77 55 0 1 0 585 190A78 55 0 1 0 585 125Z"/>
<path class="w" d="M374 95L374 85L389 75L389 50Q390 44 400 44L415 44Q425 44 425 50L425 75L440 85L440 205L427 235L388 235L374 205Z"/><path d="M380 21Q395 0 421 10"/>
<path d="M70 235L230 240L330 252L460 252L560 240L740 235"/>
<path d="M215 250L215 700L270 700M215 250L320 250L320 490M215 315L300 315M215 480L280 480L280 495L320 495M265 510L265 540M265 510L320 510L320 540L400 540M385 265L385 540M400 265L400 560M445 335L445 680L540 680M445 335L540 335L540 290L625 290M445 545L485 545M625 290L625 740M315 580L315 740L372 740M512 740L640 740M535 600L535 650L560 650M535 600L600 600M540 740L540 760L565 760L565 700M270 700A20 20 0 0 1 310 700"/>
<circle cx="410" cy="315" r="17"/><circle cx="585" cy="630" r="18"/>
<path d="M740 235L745 330L735 350L720 340L715 260M730 240L733 325M625 350L700 350M640 365L680 365M660 228L740 228"/>
<path d="M392 748L441 826M492 748L443 826M400 759Q441 780 482 759"/>
<path d="M80 25L225 95M-30 87L70 98M-30 190L70 208M-30 284L220 210M-18 393L70 355M300 0L348 195M405 -55L352 90M405 -55L456 90M530 -55L462 195M625 -50L588 92M720 390L592 212M815 165L735 108M815 165L735 208M160 560L285 566M690 580L560 590M690 668L560 680M690 750L615 740M275 800L288 725"/>
<g class="k"><circle cx="82" cy="100" r="14.5"/><circle cx="82" cy="210" r="14.5"/><circle cx="228" cy="100" r="14.5"/><circle cx="228" cy="205" r="14.5"/><circle cx="350" cy="100" r="14.5"/><circle cx="350" cy="205" r="14.5"/><circle cx="458" cy="100" r="14.5"/><circle cx="458" cy="205" r="14.5"/><circle cx="585" cy="100" r="14.5"/><circle cx="585" cy="205" r="14.5"/><circle cx="725" cy="105" r="14.5"/><circle cx="725" cy="210" r="14.5"/><circle cx="77" cy="350" r="14.5"/><circle cx="298" cy="567" r="14.5"/><circle cx="545" cy="590" r="14.5"/><circle cx="545" cy="680" r="14.5"/><circle cx="290" cy="712" r="14.5"/><circle cx="388" cy="738" r="14.5"/><circle cx="495" cy="738" r="14.5"/><circle cx="600" cy="738" r="14.5"/></g>
</g>
<g id="dgK" class="l" style="stroke-width:1.2" transform="translate(400,550) scale(.2)">
<path d="M90 100L130 100M230 100L330 100L345 115L385 120M540 75L560 70L570 85M600 100L690 100M715 125L740 130L740 370L720 385L620 395M35 170L35 370L60 375M75 385L150 385M160 390L160 780L250 775L270 785L330 785"/>
<path d="M440 100L520 100" stroke-dasharray="5 2.5"/>
<path d="M305 240L305 210L330 180L380 165L440 165L480 185L495 215L495 240L470 250L330 250ZM370 200L375 190L420 190L430 205L430 230L370 230ZM330 205Q345 180 400 177Q455 180 470 205"/>
<path d="M230 275L300 265L330 275L360 270L420 275L440 285L470 270L520 270L545 290L550 310L575 340L580 400L560 430L555 480L580 500L580 600L560 640L540 660L440 650L330 655L300 665L210 655L185 630L185 470L210 440L215 420L195 390L195 340L215 310Z"/>
<path d="M240 288L300 278L330 288L360 283L420 288L440 298L470 283L515 283L533 298L538 318L562 345L567 398L548 428L543 485L567 505L567 595L550 630L535 647L440 637L330 642L300 652L215 642L198 625L198 475L222 445L228 418L208 388L208 345L227 318Z"/>
<path d="M215 455L250 455L265 470L295 470L300 620L210 620M222 470L245 470L258 484L284 484L288 608L215 608M440 560L460 540L545 540L550 620L470 630L440 610ZM452 565L467 552L533 552L538 610L474 618L452 603Z"/>
<path d="M205 660L205 740L280 745L280 665M455 655L455 740L525 745L530 660"/>
<path d="M582 430L585 640" stroke-dasharray="5 2.5"/>
<path d="M373 35L80 120M373 35L177 120M373 35L298 120M373 35L412 122M373 35L478 120M373 35L596 120M373 35L690 122M20 135L62 198M20 135L196 202M20 135L340 203M0 340L62 310M0 340L198 308M0 342L340 306M0 415L50 375M90 420L165 385M70 490L245 388M70 490L340 365M85 600L230 475M680 470L495 388M680 470L600 388M680 520L582 473M680 590L497 503M835 268L575 208M835 268L705 208M835 268L575 303M835 268L705 303"/>
<g class="k"><circle cx="80" cy="120" r="14.5"/><circle cx="177" cy="120" r="14.5"/><circle cx="298" cy="120" r="14.5"/><circle cx="412" cy="122" r="14.5"/><circle cx="478" cy="120" r="14.5"/><circle cx="596" cy="120" r="14.5"/><circle cx="690" cy="122" r="14.5"/><circle cx="70" cy="205" r="14.5"/><circle cx="203" cy="205" r="14.5"/><circle cx="348" cy="205" r="14.5"/><circle cx="570" cy="207" r="14.5"/><circle cx="700" cy="207" r="14.5"/><circle cx="70" cy="305" r="14.5"/><circle cx="205" cy="305" r="14.5"/><circle cx="348" cy="303" r="14.5"/><circle cx="570" cy="305" r="14.5"/><circle cx="700" cy="305" r="14.5"/><circle cx="60" cy="365" r="14.5"/><circle cx="172" cy="382" r="14.5"/><circle cx="250" cy="385" r="14.5"/><circle cx="345" cy="362" r="14.5"/><circle cx="492" cy="385" r="14.5"/><circle cx="598" cy="382" r="14.5"/><circle cx="235" cy="470" r="14.5"/><circle cx="577" cy="470" r="14.5"/><circle cx="492" cy="500" r="14.5"/></g>
</g>
<g id="fwd" class="l">
<path class="w" d="M199 688.8L207.4 673L210.8 675.8L226.5 666.8L229.4 668.5L229.4 679.2L214.2 688.2L210.3 694.4Z" stroke-width="2"/>
<path d="M226.5 666.8L226.7 677.5L213 685.5L210.3 690.5M210.8 675.8L213.5 678M226.7 677.5L229.4 679.2" stroke-width="1.2"/>
<path d="M225.4 704H263.8M453.5 718.2H494" stroke-width="1.1"/>
</g>
<!--DIAG-->
<!--TEXT-->
<g class="t" id="labels" transform="translate(0.4,0.6)">
<text x="272" y="114.7" textLength="12" lengthAdjust="spacingAndGlyphs">10</text>
<text x="358.3" y="94" textLength="12" lengthAdjust="spacingAndGlyphs">53</text>
<text x="360.8" y="111.5" textLength="12" lengthAdjust="spacingAndGlyphs">54</text>
<text x="379.5" y="107" textLength="12" lengthAdjust="spacingAndGlyphs">30</text>
<text x="284" y="137" textLength="6" lengthAdjust="spacingAndGlyphs">9</text>
<text x="403.3" y="107" textLength="12" lengthAdjust="spacingAndGlyphs">29</text>
<text x="440.3" y="122.5" textLength="6" lengthAdjust="spacingAndGlyphs">8</text>
<text x="536.5" y="85.3" textLength="12" lengthAdjust="spacingAndGlyphs">24</text>
<text x="569" y="111" textLength="12" lengthAdjust="spacingAndGlyphs">31</text>
<text x="590.5" y="122" textLength="12" lengthAdjust="spacingAndGlyphs">32</text>
<text x="536.5" y="167" textLength="12" lengthAdjust="spacingAndGlyphs">33</text>
<text x="598.5" y="161" textLength="12" lengthAdjust="spacingAndGlyphs">34</text>
<text x="574.1" y="236.9" textLength="6" lengthAdjust="spacingAndGlyphs">7</text>
<text x="573.6" y="255.7" textLength="6" lengthAdjust="spacingAndGlyphs">6</text>
<text x="573.6" y="279.6" textLength="6" lengthAdjust="spacingAndGlyphs">4</text>
<text x="547.5" y="295" textLength="12" lengthAdjust="spacingAndGlyphs">17</text>
<text x="577.3" y="304.9" textLength="6" lengthAdjust="spacingAndGlyphs">3</text>
<text x="604" y="310.6" textLength="6" lengthAdjust="spacingAndGlyphs">1</text>
<text x="577.3" y="318.8" textLength="6" lengthAdjust="spacingAndGlyphs">5</text>
<text x="577.3" y="331.4" textLength="6" lengthAdjust="spacingAndGlyphs">2</text>
<text x="542.5" y="366" textLength="12" lengthAdjust="spacingAndGlyphs">52</text>
<text x="577.8" y="400.9" textLength="6" lengthAdjust="spacingAndGlyphs">2</text>
<text x="577.8" y="420.3" textLength="6" lengthAdjust="spacingAndGlyphs">5</text>
<text x="198.3" y="217.8" textLength="14.5" style="font-size:11px;stroke-width:.5" lengthAdjust="spacingAndGlyphs">AP</text>
<text x="249.5" y="229.7" textLength="12" lengthAdjust="spacingAndGlyphs">18</text>
<text x="198.3" y="287.5" textLength="81.5" style="font-size:11px" lengthAdjust="spacingAndGlyphs">4BR- 15167- 10</text>
<text x="289.5" y="271.7" textLength="12" lengthAdjust="spacingAndGlyphs">37</text>
<text x="374" y="273" textLength="12" lengthAdjust="spacingAndGlyphs">38</text>
<text x="255.5" y="307.3" textLength="12" lengthAdjust="spacingAndGlyphs">35</text>
<text x="284" y="319.3" textLength="12" lengthAdjust="spacingAndGlyphs">36</text>
<text x="303.5" y="301.7" textLength="12" lengthAdjust="spacingAndGlyphs">18</text>
<text x="193.5" y="367.3" textLength="12" lengthAdjust="spacingAndGlyphs">48</text>
<text x="192" y="391.3" textLength="12" lengthAdjust="spacingAndGlyphs">47</text>
<text x="257" y="378.3" textLength="12" lengthAdjust="spacingAndGlyphs">50</text>
<text x="291.5" y="398.3" textLength="12" lengthAdjust="spacingAndGlyphs">44</text>
<text x="291.5" y="417.3" textLength="12" lengthAdjust="spacingAndGlyphs">40</text>
<text x="189" y="448.3" textLength="12" lengthAdjust="spacingAndGlyphs">51</text>
<text x="235" y="448.3" textLength="12" lengthAdjust="spacingAndGlyphs">49</text>
<text x="321.5" y="457.3" textLength="12" lengthAdjust="spacingAndGlyphs">42</text>
<text x="243.5" y="472.3" textLength="12" lengthAdjust="spacingAndGlyphs">43</text>
<text x="253.5" y="484.3" textLength="12" lengthAdjust="spacingAndGlyphs">45</text>
<text x="312" y="496.7" textLength="12" lengthAdjust="spacingAndGlyphs">41</text>
<text x="302" y="520.3" textLength="12" lengthAdjust="spacingAndGlyphs">45</text>
<text x="332" y="440.3" textLength="12" lengthAdjust="spacingAndGlyphs">20</text>
<text x="347.5" y="501.7" textLength="12" lengthAdjust="spacingAndGlyphs">19</text>
<text x="546.5" y="483.3" textLength="12" lengthAdjust="spacingAndGlyphs">39</text>
<text x="565.5" y="497.3" textLength="12" lengthAdjust="spacingAndGlyphs">38</text>
<text x="583.5" y="511.7" textLength="12" lengthAdjust="spacingAndGlyphs">37</text>
<text x="510.5" y="510.3" textLength="12" lengthAdjust="spacingAndGlyphs">36</text>
<text x="537" y="522.3" textLength="12" lengthAdjust="spacingAndGlyphs">35</text>
<text x="467.5" y="504.7" textLength="12" lengthAdjust="spacingAndGlyphs">26</text>
<text x="516.5" y="534.3" textLength="12" lengthAdjust="spacingAndGlyphs">46</text>
<text x="299.5" y="545.3" textLength="12" lengthAdjust="spacingAndGlyphs">16</text>
<text x="327.5" y="546.7" textLength="12" lengthAdjust="spacingAndGlyphs">15</text>
<text x="346.5" y="548" textLength="12" lengthAdjust="spacingAndGlyphs">14</text>
<text x="277" y="553" textLength="12" lengthAdjust="spacingAndGlyphs">11</text>
<text x="227.5" y="567.3" textLength="12" lengthAdjust="spacingAndGlyphs">14</text>
<text x="204" y="580.3" textLength="12" lengthAdjust="spacingAndGlyphs">13</text>
<text x="204" y="602.3" textLength="12" lengthAdjust="spacingAndGlyphs">10</text>
<text x="203.5" y="622.3" textLength="12" lengthAdjust="spacingAndGlyphs">12</text>
<text x="207" y="642.3" textLength="12" lengthAdjust="spacingAndGlyphs">25</text>
<text x="239" y="676.3" textLength="12" lengthAdjust="spacingAndGlyphs">24</text>
<text x="363.5" y="678.3" textLength="12" lengthAdjust="spacingAndGlyphs">22</text>
<text x="363.5" y="696.7" textLength="12" lengthAdjust="spacingAndGlyphs">24</text>
<text x="364.2" y="714.3" textLength="12" lengthAdjust="spacingAndGlyphs">25</text>
<text x="273" y="727.9" textLength="12" lengthAdjust="spacingAndGlyphs">21</text>
<text x="363.5" y="647.3" textLength="12" lengthAdjust="spacingAndGlyphs">12</text>
<text x="468.5" y="550.3" textLength="12" lengthAdjust="spacingAndGlyphs">26</text>
<text x="390" y="596.3" textLength="12" lengthAdjust="spacingAndGlyphs">10</text>
<text x="384.5" y="625.3" textLength="12" lengthAdjust="spacingAndGlyphs">20</text>
<text x="387.5" y="642.3" textLength="12" lengthAdjust="spacingAndGlyphs">25</text>
<text x="406.5" y="641.3" textLength="12" lengthAdjust="spacingAndGlyphs">23</text>
<text x="400.5" y="654.7" textLength="12" lengthAdjust="spacingAndGlyphs">24</text>
<text x="408.5" y="683.3" textLength="12" lengthAdjust="spacingAndGlyphs">28</text>
<text x="537.5" y="648.3" textLength="12" lengthAdjust="spacingAndGlyphs">24</text>
<text x="537.5" y="660.3" textLength="12" lengthAdjust="spacingAndGlyphs">27</text>
<text x="537.5" y="673.3" textLength="12" lengthAdjust="spacingAndGlyphs">23</text>
<text x="306.6" y="735.1" textLength="12" lengthAdjust="spacingAndGlyphs">26</text>
<text x="377.3" y="573" textLength="29.6" lengthAdjust="spacingAndGlyphs">19,20</text>
<text x="384.5" y="615" textLength="14" lengthAdjust="spacingAndGlyphs">19,</text>
<text x="569.5" y="608" textLength="31" lengthAdjust="spacingAndGlyphs">19, 20</text>
<text x="225.7" y="701.9" textLength="37.5" lengthAdjust="spacingAndGlyphs" style="font-size:11.2px;stroke-width:.45">UPPER</text>
<text x="453.7" y="716" textLength="40" lengthAdjust="spacingAndGlyphs" style="font-size:11.2px;stroke-width:.45">LOWER</text>
<text x="199.3" y="721.4" textLength="68.5" lengthAdjust="spacingAndGlyphs" style="font-size:10.6px">4HM010-3120</text>
<text class="b" transform="translate(212.3,687.2) rotate(-30)" style="font-size:8.2px;font-style:italic" textLength="16.5" lengthAdjust="spacingAndGlyphs">FWD</text>
</g>
</g>
</svg>
</body></html>
